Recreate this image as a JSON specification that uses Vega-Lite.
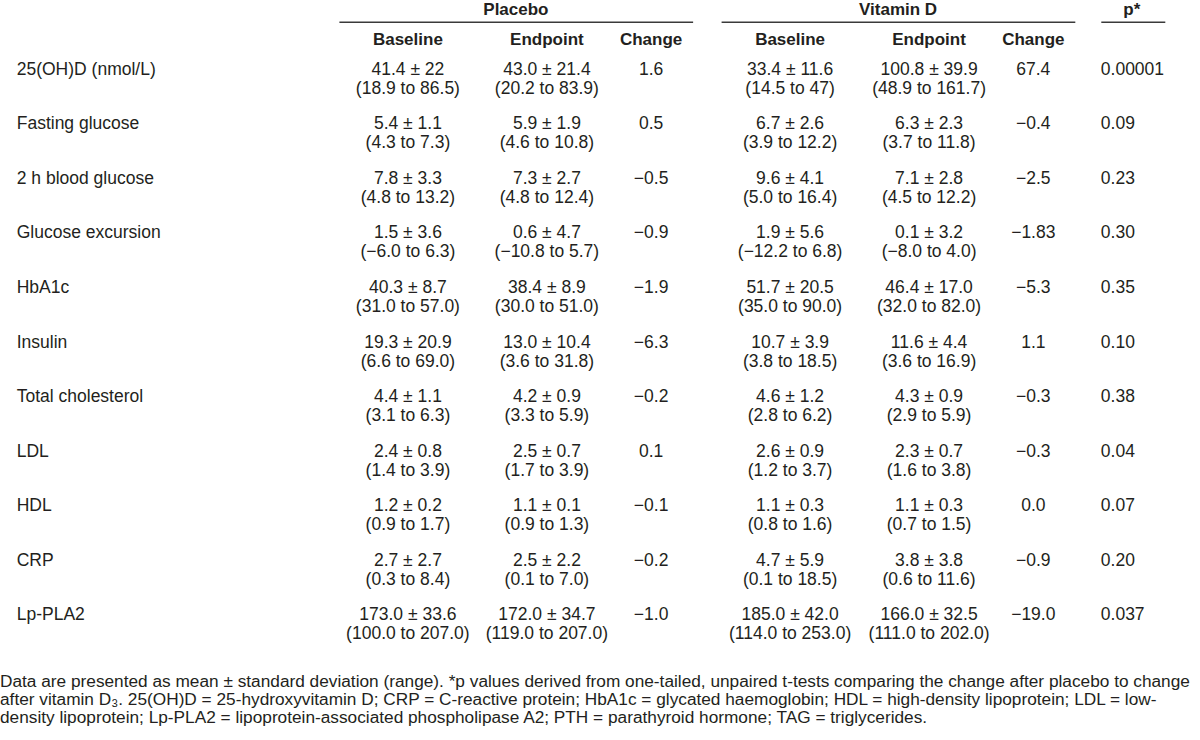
{
  "$schema": "https://vega.github.io/schema/vega-lite/v6.json",
  "width": 1198,
  "height": 695,
  "autosize": {"type": "none"},
  "padding": {"left": 0, "top": 0, "right": 2, "bottom": 45},
  "background": "white",
  "config": {"view": {"stroke": null}, "font": "Liberation Sans"},
  "datasets": {
    "table": [
      {"measure": "25(OH)D (nmol/L)", "Placebo Baseline": "41.4 ± 22\n(18.9 to 86.5)", "Placebo Endpoint": "43.0 ± 21.4\n(20.2 to 83.9)", "Placebo Change": "1.6", "Vitamin D Baseline": "33.4 ± 11.6\n(14.5 to 47)", "Vitamin D Endpoint": "100.8 ± 39.9\n(48.9 to 161.7)", "Vitamin D Change": "67.4", "p": "0.00001"},
      {"measure": "Fasting glucose", "Placebo Baseline": "5.4 ± 1.1\n(4.3 to 7.3)", "Placebo Endpoint": "5.9 ± 1.9\n(4.6 to 10.8)", "Placebo Change": "0.5", "Vitamin D Baseline": "6.7 ± 2.6\n(3.9 to 12.2)", "Vitamin D Endpoint": "6.3 ± 2.3\n(3.7 to 11.8)", "Vitamin D Change": "−0.4", "p": "0.09"},
      {"measure": "2 h blood glucose", "Placebo Baseline": "7.8 ± 3.3\n(4.8 to 13.2)", "Placebo Endpoint": "7.3 ± 2.7\n(4.8 to 12.4)", "Placebo Change": "−0.5", "Vitamin D Baseline": "9.6 ± 4.1\n(5.0 to 16.4)", "Vitamin D Endpoint": "7.1 ± 2.8\n(4.5 to 12.2)", "Vitamin D Change": "−2.5", "p": "0.23"},
      {"measure": "Glucose excursion", "Placebo Baseline": "1.5 ± 3.6\n(−6.0 to 6.3)", "Placebo Endpoint": "0.6 ± 4.7\n(−10.8 to 5.7)", "Placebo Change": "−0.9", "Vitamin D Baseline": "1.9 ± 5.6\n(−12.2 to 6.8)", "Vitamin D Endpoint": "0.1 ± 3.2\n(−8.0 to 4.0)", "Vitamin D Change": "−1.83", "p": "0.30"},
      {"measure": "HbA1c", "Placebo Baseline": "40.3 ± 8.7\n(31.0 to 57.0)", "Placebo Endpoint": "38.4 ± 8.9\n(30.0 to 51.0)", "Placebo Change": "−1.9", "Vitamin D Baseline": "51.7 ± 20.5\n(35.0 to 90.0)", "Vitamin D Endpoint": "46.4 ± 17.0\n(32.0 to 82.0)", "Vitamin D Change": "−5.3", "p": "0.35"},
      {"measure": "Insulin", "Placebo Baseline": "19.3 ± 20.9\n(6.6 to 69.0)", "Placebo Endpoint": "13.0 ± 10.4\n(3.6 to 31.8)", "Placebo Change": "−6.3", "Vitamin D Baseline": "10.7 ± 3.9\n(3.8 to 18.5)", "Vitamin D Endpoint": "11.6 ± 4.4\n(3.6 to 16.9)", "Vitamin D Change": "1.1", "p": "0.10"},
      {"measure": "Total cholesterol", "Placebo Baseline": "4.4 ± 1.1\n(3.1 to 6.3)", "Placebo Endpoint": "4.2 ± 0.9\n(3.3 to 5.9)", "Placebo Change": "−0.2", "Vitamin D Baseline": "4.6 ± 1.2\n(2.8 to 6.2)", "Vitamin D Endpoint": "4.3 ± 0.9\n(2.9 to 5.9)", "Vitamin D Change": "−0.3", "p": "0.38"},
      {"measure": "LDL", "Placebo Baseline": "2.4 ± 0.8\n(1.4 to 3.9)", "Placebo Endpoint": "2.5 ± 0.7\n(1.7 to 3.9)", "Placebo Change": "0.1", "Vitamin D Baseline": "2.6 ± 0.9\n(1.2 to 3.7)", "Vitamin D Endpoint": "2.3 ± 0.7\n(1.6 to 3.8)", "Vitamin D Change": "−0.3", "p": "0.04"},
      {"measure": "HDL", "Placebo Baseline": "1.2 ± 0.2\n(0.9 to 1.7)", "Placebo Endpoint": "1.1 ± 0.1\n(0.9 to 1.3)", "Placebo Change": "−0.1", "Vitamin D Baseline": "1.1 ± 0.3\n(0.8 to 1.6)", "Vitamin D Endpoint": "1.1 ± 0.3\n(0.7 to 1.5)", "Vitamin D Change": "0.0", "p": "0.07"},
      {"measure": "CRP", "Placebo Baseline": "2.7 ± 2.7\n(0.3 to 8.4)", "Placebo Endpoint": "2.5 ± 2.2\n(0.1 to 7.0)", "Placebo Change": "−0.2", "Vitamin D Baseline": "4.7 ± 5.9\n(0.1 to 18.5)", "Vitamin D Endpoint": "3.8 ± 3.8\n(0.6 to 11.6)", "Vitamin D Change": "−0.9", "p": "0.20"},
      {"measure": "Lp-PLA2", "Placebo Baseline": "173.0 ± 33.6\n(100.0 to 207.0)", "Placebo Endpoint": "172.0 ± 34.7\n(119.0 to 207.0)", "Placebo Change": "−1.0", "Vitamin D Baseline": "185.0 ± 42.0\n(114.0 to 253.0)", "Vitamin D Endpoint": "166.0 ± 32.5\n(111.0 to 202.0)", "Vitamin D Change": "−19.0", "p": "0.037"}
    ],
    "subheads": [
      {"measure": "header", "col": "Placebo Baseline", "text": "Baseline"},
      {"measure": "header", "col": "Placebo Endpoint", "text": "Endpoint"},
      {"measure": "header", "col": "Placebo Change", "text": "Change"},
      {"measure": "header", "col": "Vitamin D Baseline", "text": "Baseline"},
      {"measure": "header", "col": "Vitamin D Endpoint", "text": "Endpoint"},
      {"measure": "header", "col": "Vitamin D Change", "text": "Change"}
    ],
    "groups": [
      {"measure": "header", "col": "Placebo Endpoint", "text": "Placebo", "from": "Placebo Baseline", "to": "Placebo Change"},
      {"measure": "header", "col": "Vitamin D Endpoint", "text": "Vitamin D", "from": "Vitamin D Baseline", "to": "Vitamin D Change"}
    ],
    "pgroup": [
      {"measure": "header", "col": "p", "text": "p*", "from": "p", "to": "p"}
    ],
    "notes": [
      {"measure": "note", "col": "measure", "text": "Data are presented as mean ± standard deviation (range). *p values derived from one-tailed, unpaired t-tests comparing the change after placebo to change\nafter vitamin D₃. 25(OH)D = 25-hydroxyvitamin D; CRP = C-reactive protein; HbA1c = glycated haemoglobin; HDL = high-density lipoprotein; LDL = low-\ndensity lipoprotein; Lp-PLA2 = lipoprotein-associated phospholipase A2; PTH = parathyroid hormone; TAG = triglycerides."}
    ]
  },
  "layer": [
    {
      "data": {"name": "table"},
      "transform": [
        {"fold": ["measure", "Placebo Baseline", "Placebo Endpoint", "Placebo Change", "Vitamin D Baseline", "Vitamin D Endpoint", "Vitamin D Change", "p"], "as": ["col", "text"]},
        {"filter": {"field": "col", "equal": "measure"}}
      ],
      "mark": {"type": "text", "align": "left", "baseline": "alphabetic", "dx": -9, "fontSize": 17.5, "color": "#231f20"},
      "encoding": {
        "x": {"field": "col", "type": "nominal", "axis": null, "scale": {"type": "point", "padding": 0.74, "domain": ["measure", "_1", "_2", "_3", "_4", "_5", "_6", "_7", "_8", "_9", "_10", "Placebo Baseline", "_11", "_12", "_13", "Placebo Endpoint", "_14", "_15", "Placebo Change", "_16", "_17", "_18", "Vitamin D Baseline", "_19", "_20", "_21", "Vitamin D Endpoint", "_22", "_23", "Vitamin D Change", "_24", "p", "_25", "_26"]}},
        "y": {"field": "measure", "type": "nominal", "axis": null, "scale": {"type": "point", "padding": 0.376, "domain": ["header", "25(OH)D (nmol/L)", "Fasting glucose", "2 h blood glucose", "Glucose excursion", "HbA1c", "Insulin", "Total cholesterol", "LDL", "HDL", "CRP", "Lp-PLA2", "note"]}},
        "text": {"field": "text", "type": "nominal"}
      }
    },
    {
      "data": {"name": "table"},
      "transform": [
        {"fold": ["measure", "Placebo Baseline", "Placebo Endpoint", "Placebo Change", "Vitamin D Baseline", "Vitamin D Endpoint", "Vitamin D Change", "p"], "as": ["col", "text"]},
        {"filter": {"field": "col", "oneOf": ["Placebo Baseline", "Placebo Endpoint", "Placebo Change", "Vitamin D Baseline", "Vitamin D Endpoint", "Vitamin D Change"]}}
      ],
      "mark": {"type": "text", "align": "center", "baseline": "alphabetic", "lineBreak": "\n", "lineHeight": 19, "fontSize": 17.5, "color": "#231f20"},
      "encoding": {
        "x": {"field": "col", "type": "nominal", "axis": null},
        "y": {"field": "measure", "type": "nominal", "axis": null},
        "text": {"field": "text", "type": "nominal"}
      }
    },
    {
      "data": {"name": "table"},
      "transform": [
        {"fold": ["measure", "Placebo Baseline", "Placebo Endpoint", "Placebo Change", "Vitamin D Baseline", "Vitamin D Endpoint", "Vitamin D Change", "p"], "as": ["col", "text"]},
        {"filter": {"field": "col", "equal": "p"}}
      ],
      "mark": {"type": "text", "align": "left", "baseline": "alphabetic", "dx": -2, "fontSize": 17.5, "color": "#231f20"},
      "encoding": {
        "x": {"field": "col", "type": "nominal", "axis": null},
        "y": {"field": "measure", "type": "nominal", "axis": null},
        "text": {"field": "text", "type": "nominal"}
      }
    },
    {
      "data": {"name": "subheads"},
      "mark": {"type": "text", "align": "center", "baseline": "alphabetic", "dy": 24.5, "fontSize": 17, "fontWeight": "bold", "color": "#231f20"},
      "encoding": {
        "x": {"field": "col", "type": "nominal", "axis": null},
        "y": {"field": "measure", "type": "nominal", "axis": null},
        "text": {"field": "text", "type": "nominal"}
      }
    },
    {
      "data": {"name": "groups"},
      "mark": {"type": "text", "align": "center", "baseline": "alphabetic", "dx": -31, "dy": -5.5, "fontSize": 17, "fontWeight": "bold", "color": "#231f20"},
      "encoding": {
        "x": {"field": "col", "type": "nominal", "axis": null},
        "y": {"field": "measure", "type": "nominal", "axis": null},
        "text": {"field": "text", "type": "nominal"}
      }
    },
    {
      "data": {"name": "pgroup"},
      "mark": {"type": "text", "align": "center", "baseline": "alphabetic", "dx": 29, "dy": -5.5, "fontSize": 17, "fontWeight": "bold", "color": "#231f20"},
      "encoding": {
        "x": {"field": "col", "type": "nominal", "axis": null},
        "y": {"field": "measure", "type": "nominal", "axis": null},
        "text": {"field": "text", "type": "nominal"}
      }
    },
    {
      "data": {"name": "groups"},
      "mark": {"type": "rule", "xOffset": -68.5, "x2Offset": 42, "yOffset": 1.8, "strokeWidth": 1.4, "color": "#3a3a3a"},
      "encoding": {
        "x": {"field": "from", "type": "nominal", "axis": null},
        "x2": {"field": "to"},
        "y": {"field": "measure", "type": "nominal", "axis": null}
      }
    },
    {
      "data": {"name": "pgroup"},
      "mark": {"type": "rule", "xOffset": -1.5, "x2Offset": 62.5, "yOffset": 1.8, "strokeWidth": 1.4, "color": "#3a3a3a"},
      "encoding": {
        "x": {"field": "from", "type": "nominal", "axis": null},
        "x2": {"field": "to"},
        "y": {"field": "measure", "type": "nominal", "axis": null}
      }
    },
    {
      "data": {"name": "notes"},
      "mark": {"type": "text", "align": "left", "baseline": "alphabetic", "dx": -25.7, "dy": 12.5, "lineBreak": "\n", "lineHeight": 18, "fontSize": 17.25, "color": "#231f20"},
      "encoding": {
        "x": {"field": "col", "type": "nominal", "axis": null},
        "y": {"field": "measure", "type": "nominal", "axis": null},
        "text": {"field": "text", "type": "nominal"}
      }
    }
  ]
}
